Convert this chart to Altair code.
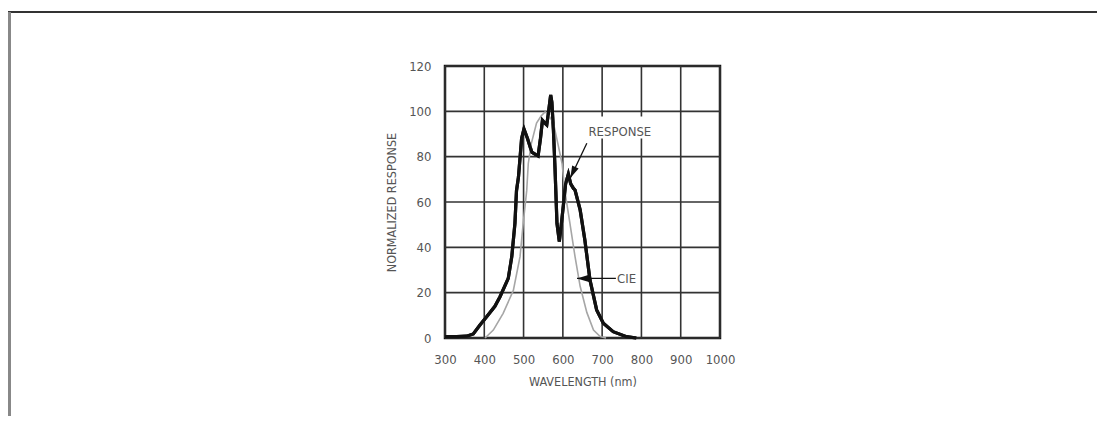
import altair as alt
import pandas as pd

FONT = "'DejaVu Sans Condensed', 'Liberation Sans Narrow', sans-serif"

# Response curve (black)
resp_wl = [300, 330, 355, 372, 389, 406, 427, 440, 461, 470, 478, 482, 487, 495, 501, 510, 521, 530, 537,
           543, 548, 553, 559, 563, 569, 572, 576, 580, 585, 591, 596, 601, 607, 614, 620, 627, 631,
           644, 656, 669, 686, 703, 728, 762, 787]
resp_val = [0.6, 0.6, 0.8, 1.8, 5.7, 9.4, 14, 18.2, 26.3, 35.9, 50.6, 65, 71, 88, 92.2, 88, 82, 81, 80.3,
            88, 96, 95, 94, 99, 107.2, 104, 91.7, 75, 50.6, 42.5, 50, 58, 68, 72.3, 68, 66, 65.3,
            56.5, 43.2, 25.6, 12.4, 6.5, 2.8, 0.6, 0]

# CIE curve (gray)
cie_wl = [402, 423, 448, 474, 491, 499, 508, 512, 520, 533, 545, 555, 565, 576, 587, 598, 605, 618,
          631, 644, 661, 678, 695, 710]
cie_val = [0, 3.5, 10.9, 21, 35.9, 50.6, 65, 77, 86, 94.8, 98, 99.8, 98, 94.8, 86, 77, 65, 50.6,
           35.9, 22.8, 11.3, 3.5, 0.6, 0]

x_ticks = [300, 400, 500, 600, 700, 800, 900, 1000]
y_ticks = [0, 20, 40, 60, 80, 100, 120]

# annotations
ann_text = ["RESPONSE", "CIE"]
ann_wl = [745, 738]
ann_val = [91.1, 26.2]
ann_align = ["center", "left"]
arrow_wl = [661, 735]
arrow_val = [85.9, 26.3]
arrow_tip_wl = [619, 636]
arrow_tip_val = [70.6, 26.3]
arrow_angle = [295, 0]
box_wl = [664, 835]
box_val = [88, 97.7]

resp = pd.DataFrame({"wl": resp_wl, "v": resp_val})
cie = pd.DataFrame({"wl": cie_wl, "v": cie_val})
ann = pd.DataFrame({"t": ann_text, "wl": ann_wl, "v": ann_val, "al": ann_align})
arr = pd.DataFrame({"wl": arrow_wl, "v": arrow_val, "wl2": arrow_tip_wl, "v2": arrow_tip_val,
                    "ang": arrow_angle})
box = pd.DataFrame({"wl": [box_wl[0]], "wl2": [box_wl[1]], "v": [box_val[0]], "v2": [box_val[1]]})
xg = pd.DataFrame({"wl": x_ticks})
yg = pd.DataFrame({"v": y_ticks})

xs = alt.Scale(domain=[300, 1000], nice=False)
ys = alt.Scale(domain=[0, 120], nice=False)

x_axis = alt.Axis(values=x_ticks, tickCount=20, format="d", title="WAVELENGTH (nm)", grid=False,
                  ticks=False, domain=False, labelPadding=15, titlePadding=9, labelOverlap=False,
                  labelFlush=False)
y_axis = alt.Axis(values=y_ticks, tickCount=20, format="d", title="NORMALIZED RESPONSE", grid=False,
                  ticks=False, domain=False, labelPadding=14, titlePadding=10, labelOverlap=False,
                  labelFlush=False)


def X(field):
    return alt.X(field, scale=xs)


def Y(field):
    return alt.Y(field, scale=ys)


base_axes = alt.Chart(resp).mark_line(color="#111111", strokeWidth=3.2).encode(
    x=alt.X("wl:Q", scale=xs, axis=x_axis),
    y=alt.Y("v:Q", scale=ys, axis=y_axis),
)
resp_line = alt.Chart(resp).mark_line(color="#111111", strokeWidth=3.2).encode(
    x=X("wl:Q"), y=Y("v:Q"))
grid_x = alt.Chart(xg).mark_rule(color="#333333", strokeWidth=1.6).encode(x=X("wl:Q"))
grid_y = alt.Chart(yg).mark_rule(color="#333333", strokeWidth=1.6).encode(y=Y("v:Q"))

cie_line = alt.Chart(cie).mark_line(color="#a6a6a6", strokeWidth=1.6).encode(
    x=X("wl:Q"), y=Y("v:Q"))

box_layer = alt.Chart(box).mark_rect(color="white").encode(
    x=X("wl:Q"), x2="wl2:Q", y=Y("v:Q"), y2="v2:Q")

text_center = alt.Chart(ann[ann.al == "center"]).mark_text(
    font=FONT, fontSize=13, color="#555555", align="center", baseline="middle").encode(
    x=X("wl:Q"), y=Y("v:Q"), text="t:N")
text_left = alt.Chart(ann[ann.al == "left"]).mark_text(
    font=FONT, fontSize=13, color="#555555", align="left", baseline="middle").encode(
    x=X("wl:Q"), y=Y("v:Q"), text="t:N")

arrow_lines = alt.Chart(arr).mark_rule(color="#111111", strokeWidth=1.3).encode(
    x=X("wl:Q"), y=Y("v:Q"), x2="wl2:Q", y2="v2:Q")
arrow_heads = alt.Chart(arr).mark_point(
    shape="M0,0 L2,-0.6 L2,0.6 Z", filled=True, color="#111111", size=144, opacity=1).encode(
    x=X("wl2:Q"), y=Y("v2:Q"), angle=alt.Angle("ang:Q", scale=None))

# decorative page frame (top and left edges)
frame_top = alt.Chart(resp).mark_rule(color="#333333", strokeWidth=2).encode(
    x=alt.value(-437), x2=alt.value(660), y=alt.value(-54))
frame_left = alt.Chart(resp).mark_rule(color="#888888", strokeWidth=2.5).encode(
    x=alt.value(-436), y=alt.value(-54), y2=alt.value(350))

chart = alt.layer(
    base_axes, grid_x, grid_y, box_layer, cie_line, resp_line, text_center, text_left,
    arrow_lines, arrow_heads, frame_top, frame_left
).properties(
    width=275, height=272,
    autosize=alt.AutoSizeParams(type="none"),
    padding={"left": 437, "top": 58, "right": 377, "bottom": 82},
).configure_view(
    stroke="#111111", strokeWidth=2.5, clip=False
).configure_axis(
    labelFont=FONT, labelFontSize=13, labelColor="#555555", labelOverlap=False,
    titleFont=FONT, titleFontSize=12.5, titleColor="#555555", titleFontWeight="normal",
)

chart.save("out.html", embed_options={"renderer": "svg", "actions": False})
